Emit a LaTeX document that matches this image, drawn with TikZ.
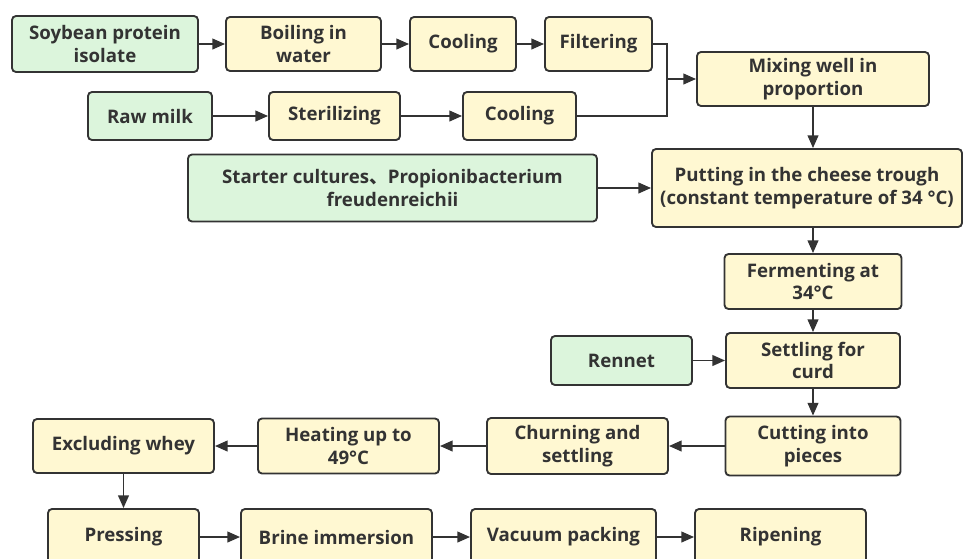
\documentclass[tikz,border=0pt]{standalone}
\usepackage{fontspec}
\setmainfont{Open Sans}
\newfontfamily\cjk{Noto Sans CJK SC}
\usepackage{xcolor}
\usepackage{tikz}
\usetikzlibrary{arrows.meta,positioning,calc}

\definecolor{inputfill}{HTML}{DCF5DC}
\definecolor{stepfill}{HTML}{FFF8D2}
\definecolor{edge}{HTML}{333333}

\begin{document}
\begin{tikzpicture}[x=0.75pt, y=-0.75pt,
        % Define styles
        box/.style={draw=edge, line width=1.4pt, rounded corners=3pt, align=center, text=edge, inner sep=0pt, font=\fontsize{14}{16.8}\selectfont\bfseries},
        input/.style={box, fill=inputfill},
        stepbox/.style={box, fill=stepfill},
        sz/.style 2 args={minimum width=#1*0.75pt, minimum height=#2*0.75pt},
        arrow/.style={-{Triangle[length=9.5pt,width=8pt]}, line width=1.4pt, draw=edge},
        plain/.style={line width=1.4pt, draw=edge}
      ]

      % Frame of the picture
      \fill[white] (0,0) rectangle (963,558);
      \clip (0,0) rectangle (963,558);

      % Soybean branch
      \node[input, sz={186}{56}] (soy) at (105,44) {Soybean protein\\isolate};
      \node[stepbox, sz={155}{54}] (boil) at (303.5,44) {Boiling in\\water};
      \node[stepbox, sz={106}{54}] (cool1) at (463,44) {Cooling};
      \node[stepbox, sz={107}{54}] (filt) at (598.5,44) {Filtering};

      % Milk branch
      \node[input, sz={124}{48}] (milk) at (150,116) {Raw milk};
      \node[stepbox, sz={131}{48}] (steril) at (334.5,116) {Sterilizing};
      \node[stepbox, sz={113}{48}] (cool2) at (519.5,116) {Cooling};

      % Main line
      \node[stepbox, sz={232}{54}] (mix) at (813,79) {Mixing well in\\proportion};
      \node[input, sz={409}{67}] (starter) at (392.5,188) {Starter cultures{\cjk 、}Propionibacterium\\freudenreichii};
      \node[stepbox, sz={310}{78}] (trough) at (807,188) {Putting in the cheese trough\\(constant temperature of 34 °C)};
      \node[stepbox, sz={177}{55}] (ferment) at (813,281.5) {Fermenting at\\34°C};
      \node[input, sz={141}{49}] (rennet) at (621.5,360.5) {Rennet};
      \node[stepbox, sz={174}{55}] (settle) at (813,360.5) {Settling for\\curd};
      \node[stepbox, sz={175}{59}] (cut) at (813,446) {Cutting into\\pieces};
      \node[stepbox, sz={181}{56}] (churn) at (577.5,446) {Churning and\\settling};
      \node[stepbox, sz={181}{55}] (heat) at (348.5,446) {Heating up to\\49°C};
      \node[stepbox, sz={181}{54}] (whey) at (123.5,446) {Excluding whey};

      % Bottom row
      \node[stepbox, sz={151}{56}] (press) at (123.5,537) {Pressing};
      \node[stepbox, sz={191}{56}] (brine) at (336.5,537) {Brine immersion};
      \node[stepbox, sz={185}{56}] (vacuum) at (563.5,537) {Vacuum packing};
      \node[stepbox, sz={171}{56}] (ripen) at (780.5,537) {Ripening};

      % Straight connectors
      \foreach \a/\b in {soy/boil, boil/cool1, cool1/filt, milk/steril, steril/cool2,
          starter/trough, ferment/settle, rennet/settle, settle/cut, cut/churn,
          churn/heat, heat/whey, whey/press, press/brine, brine/vacuum, vacuum/ripen} {
        \draw[arrow] (\a) -- (\b);
      }

      % Both branches merge into the mixing step
      \coordinate (merge) at (667,79);
      \draw[plain] (filt.east) -| (merge);
      \draw[plain] (cool2.east) -| (merge);
      \draw[arrow] (merge) -- (mix.west);

      % Mixing to trough to fermenting
      \draw[arrow] (mix) -- (mix |- trough.north);
      \draw[arrow] (trough.south -| ferment) -- (ferment);

    \end{tikzpicture}
\end{document}
